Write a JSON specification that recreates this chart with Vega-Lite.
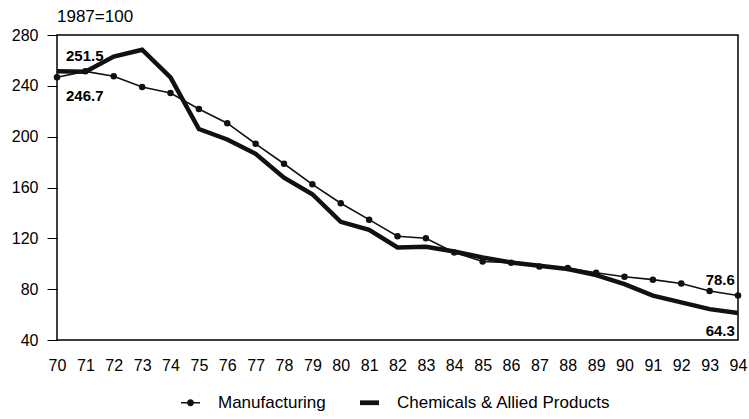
{
  "$schema": "https://vega.github.io/schema/vega-lite/v6.json",
  "width": 681,
  "height": 305,
  "autosize": "none",
  "padding": {"left": 57, "top": 35, "right": 11, "bottom": 79},
  "background": "white",
  "config": {
    "view": {"stroke": "black", "strokeWidth": 1.5},
    "font": "Liberation Sans",
    "axis": {"labelFont": "Liberation Sans", "labelColor": "black", "grid": false, "domain": false, "title": null}
  },
  "title": {
    "text": "1987=100",
    "anchor": "start",
    "frame": "group",
    "font": "Liberation Sans",
    "fontSize": 17,
    "fontWeight": "normal",
    "color": "black",
    "offset": 1
  },
  "datasets": {
    "series": [
      {"series": "Manufacturing", "year": 70, "value": 246.7},
      {"series": "Manufacturing", "year": 71, "value": 251.4},
      {"series": "Manufacturing", "year": 72, "value": 247.5},
      {"series": "Manufacturing", "year": 73, "value": 239.0},
      {"series": "Manufacturing", "year": 74, "value": 234.4},
      {"series": "Manufacturing", "year": 75, "value": 221.8},
      {"series": "Manufacturing", "year": 76, "value": 210.6},
      {"series": "Manufacturing", "year": 77, "value": 194.4},
      {"series": "Manufacturing", "year": 78, "value": 178.7},
      {"series": "Manufacturing", "year": 79, "value": 162.5},
      {"series": "Manufacturing", "year": 80, "value": 147.6},
      {"series": "Manufacturing", "year": 81, "value": 134.7},
      {"series": "Manufacturing", "year": 82, "value": 121.7},
      {"series": "Manufacturing", "year": 83, "value": 120.1},
      {"series": "Manufacturing", "year": 84, "value": 108.9},
      {"series": "Manufacturing", "year": 85, "value": 101.8},
      {"series": "Manufacturing", "year": 86, "value": 100.8},
      {"series": "Manufacturing", "year": 87, "value": 97.9},
      {"series": "Manufacturing", "year": 88, "value": 96.6},
      {"series": "Manufacturing", "year": 89, "value": 92.9},
      {"series": "Manufacturing", "year": 90, "value": 89.8},
      {"series": "Manufacturing", "year": 91, "value": 87.5},
      {"series": "Manufacturing", "year": 92, "value": 84.5},
      {"series": "Manufacturing", "year": 93, "value": 78.6},
      {"series": "Manufacturing", "year": 94, "value": 75.0},
      {"series": "Chemicals & Allied Products", "year": 70, "value": 251.5},
      {"series": "Chemicals & Allied Products", "year": 71, "value": 251.0},
      {"series": "Chemicals & Allied Products", "year": 72, "value": 263.0},
      {"series": "Chemicals & Allied Products", "year": 73, "value": 268.4},
      {"series": "Chemicals & Allied Products", "year": 74, "value": 246.7},
      {"series": "Chemicals & Allied Products", "year": 75, "value": 206.0},
      {"series": "Chemicals & Allied Products", "year": 76, "value": 197.8},
      {"series": "Chemicals & Allied Products", "year": 77, "value": 186.5},
      {"series": "Chemicals & Allied Products", "year": 78, "value": 167.7},
      {"series": "Chemicals & Allied Products", "year": 79, "value": 154.7},
      {"series": "Chemicals & Allied Products", "year": 80, "value": 133.0},
      {"series": "Chemicals & Allied Products", "year": 81, "value": 126.7},
      {"series": "Chemicals & Allied Products", "year": 82, "value": 112.8},
      {"series": "Chemicals & Allied Products", "year": 83, "value": 113.3},
      {"series": "Chemicals & Allied Products", "year": 84, "value": 109.6},
      {"series": "Chemicals & Allied Products", "year": 85, "value": 104.9},
      {"series": "Chemicals & Allied Products", "year": 86, "value": 101.0},
      {"series": "Chemicals & Allied Products", "year": 87, "value": 98.4},
      {"series": "Chemicals & Allied Products", "year": 88, "value": 95.8},
      {"series": "Chemicals & Allied Products", "year": 89, "value": 91.1},
      {"series": "Chemicals & Allied Products", "year": 90, "value": 84.0},
      {"series": "Chemicals & Allied Products", "year": 91, "value": 74.9},
      {"series": "Chemicals & Allied Products", "year": 92, "value": 69.6},
      {"series": "Chemicals & Allied Products", "year": 93, "value": 64.3},
      {"series": "Chemicals & Allied Products", "year": 94, "value": 61.3}
    ],
    "labels": [
      {"key": "a", "year": 70, "value": 251.5, "label": "251.5"},
      {"key": "b", "year": 70, "value": 246.7, "label": "246.7"},
      {"key": "c", "year": 93, "value": 78.6, "label": "78.6"},
      {"key": "d", "year": 93, "value": 64.3, "label": "64.3"}
    ]
  },
  "encoding": {
    "x": {
      "field": "year", "type": "quantitative",
      "scale": {"domain": [70, 94], "nice": false, "zero": false},
      "axis": {
        "values": [70,71,72,73,74,75,76,77,78,79,80,81,82,83,84,85,86,87,88,89,90,91,92,93,94],
        "format": "d", "ticks": false, "labelPadding": 17, "labelFontSize": 16,
        "labelFlush": false, "labelOverlap": false
      }
    },
    "y": {
      "field": "value", "type": "quantitative",
      "scale": {"domain": [40, 280], "nice": false, "zero": false},
      "axis": {
        "values": [40, 80, 120, 160, 200, 240, 280],
        "tickSize": 10, "tickColor": "black", "tickWidth": 1,
        "labelPadding": 9, "labelFontSize": 16, "labelFlush": false, "labelOverlap": false
      }
    }
  },
  "layer": [
    {
      "data": {"name": "series"},
      "transform": [{"filter": "datum.series === 'Chemicals & Allied Products'"}],
      "mark": {"type": "line", "color": "#111", "strokeWidth": 4.5}
    },
    {
      "data": {"name": "series"},
      "transform": [{"filter": "datum.series === 'Manufacturing'"}],
      "mark": {"type": "line", "color": "#111", "strokeWidth": 1.6}
    },
    {
      "data": {"name": "series"},
      "transform": [{"filter": "datum.series === 'Manufacturing'"}],
      "mark": {"type": "point", "filled": true, "color": "#111", "opacity": 1, "size": 42, "shape": "circle"}
    },
    {
      "data": {"name": "series"},
      "transform": [{"filter": "false"}],
      "mark": {"type": "point", "filled": true, "color": "#111", "opacity": 1},
      "encoding": {
        "shape": {
          "field": "series", "type": "nominal",
          "scale": {
            "domain": ["Manufacturing", "Chemicals & Allied Products"],
            "range": [
              "M-1,-0.08H1V0.08H-1Z M-0.37,0 A0.37,0.37 0 1,1 0.37,0 A0.37,0.37 0 1,1 -0.37,0Z",
              "M-1,-0.25H1V0.25H-1Z"
            ]
          },
          "legend": {
            "title": null,
            "orient": "none",
            "direction": "horizontal",
            "legendX": 124,
            "legendY": 358,
            "symbolSize": 361,
            "symbolFillColor": "#111",
            "symbolStrokeWidth": 0,
            "symbolOpacity": 1,
            "labelFont": "Liberation Sans",
            "labelFontSize": 17,
            "labelColor": "black",
            "labelOffset": 18,
            "columnPadding": 34,
            "labelLimit": 400
          }
        }
      }
    },
    {
      "data": {"name": "labels"},
      "transform": [{"filter": "datum.key === 'a'"}],
      "mark": {"type": "text", "font": "Liberation Sans", "fontWeight": "bold", "fontSize": 15, "align": "left", "baseline": "middle", "dx": 9, "dy": -15, "color": "black"},
      "encoding": {"text": {"field": "label"}}
    },
    {
      "data": {"name": "labels"},
      "transform": [{"filter": "datum.key === 'b'"}],
      "mark": {"type": "text", "font": "Liberation Sans", "fontWeight": "bold", "fontSize": 15, "align": "left", "baseline": "middle", "dx": 9, "dy": 19, "color": "black"},
      "encoding": {"text": {"field": "label"}}
    },
    {
      "data": {"name": "labels"},
      "transform": [{"filter": "datum.key === 'c'"}],
      "mark": {"type": "text", "font": "Liberation Sans", "fontWeight": "bold", "fontSize": 15, "align": "left", "baseline": "middle", "dx": -4, "dy": -11, "color": "black"},
      "encoding": {"text": {"field": "label"}}
    },
    {
      "data": {"name": "labels"},
      "transform": [{"filter": "datum.key === 'd'"}],
      "mark": {"type": "text", "font": "Liberation Sans", "fontWeight": "bold", "fontSize": 15, "align": "left", "baseline": "middle", "dx": -4, "dy": 22, "color": "black"},
      "encoding": {"text": {"field": "label"}}
    }
  ]
}
